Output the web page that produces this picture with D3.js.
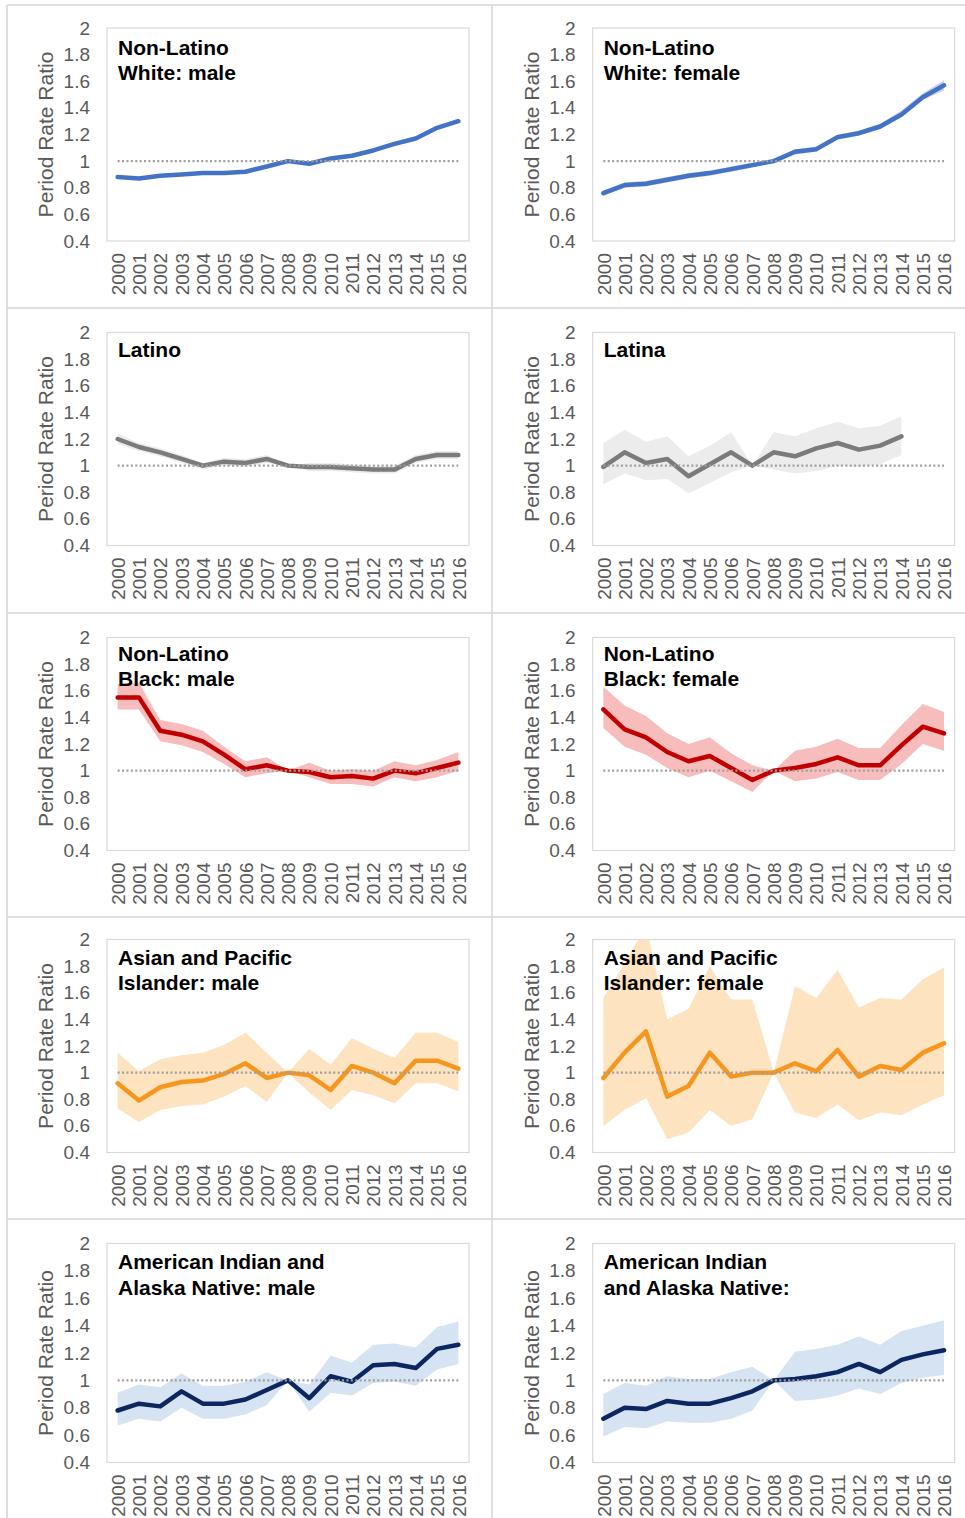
<!DOCTYPE html>
<html><head><meta charset="utf-8">
<script src="https://cdn.jsdelivr.net/npm/d3@7"></script>
<style>body{margin:0;background:#fff;} svg{display:block;font-family:"Liberation Sans",Arial,sans-serif;}</style>
</head><body><svg id="c" width="965" height="1518"></svg>
<script>
const years = ["2000","2001","2002","2003","2004","2005","2006","2007","2008","2009","2010","2011","2012","2013","2014","2015","2016"];
const yTicks = [0.4,0.6,0.8,1,1.2,1.4,1.6,1.8,2];
const refValue = 1;

const titles = [
  ["Non-Latino","White: male"], ["Non-Latino","White: female"],
  ["Latino"], ["Latina"],
  ["Non-Latino","Black: male"], ["Non-Latino","Black: female"],
  ["Asian and Pacific","Islander: male"], ["Asian and Pacific","Islander: female"],
  ["American Indian and","Alaska Native: male"], ["American Indian","and Alaska Native:"]
];

const nlwMale   = [0.88,0.87,0.89,0.90,0.91,0.91,0.92,0.96,1.00,0.98,1.02,1.04,1.08,1.13,1.17,1.25,1.30];
const nlwMaleLo = [0.87,0.86,0.88,0.89,0.90,0.90,0.91,0.95,1.00,0.97,1.01,1.03,1.07,1.12,1.16,1.24,1.29];
const nlwMaleHi = [0.89,0.88,0.90,0.91,0.92,0.92,0.93,0.97,1.00,0.99,1.03,1.05,1.09,1.14,1.18,1.26,1.32];

const nlwFemale   = [0.76,0.82,0.83,0.86,0.89,0.91,0.94,0.97,1.00,1.07,1.09,1.18,1.21,1.26,1.35,1.48,1.57];
const nlwFemaleLo = [0.74,0.80,0.81,0.84,0.87,0.89,0.92,0.95,1.00,1.05,1.07,1.16,1.19,1.24,1.33,1.46,1.53];
const nlwFemaleHi = [0.78,0.84,0.85,0.88,0.91,0.93,0.96,0.99,1.00,1.09,1.11,1.20,1.23,1.28,1.38,1.51,1.61];

const latino   = [1.20,1.14,1.10,1.05,1.00,1.03,1.02,1.05,1.00,0.99,0.99,0.98,0.97,0.97,1.05,1.08,1.08];
const latinoLo = [1.16,1.11,1.07,1.02,0.97,1.00,0.99,1.02,1.00,0.96,0.96,0.95,0.94,0.94,1.02,1.05,1.05];
const latinoHi = [1.24,1.17,1.13,1.08,1.02,1.06,1.05,1.08,1.00,1.02,1.02,1.01,1.00,1.00,1.08,1.11,1.11];

const latina   = [0.99,1.10,1.02,1.05,0.92,1.01,1.10,1.00,1.10,1.07,1.13,1.17,1.12,1.15,1.22];
const latinaLo = [0.86,0.94,0.89,0.90,0.79,0.87,0.95,1.00,0.97,0.94,0.96,1.00,0.99,1.01,1.08];
const latinaHi = [1.17,1.27,1.18,1.22,1.07,1.15,1.25,1.00,1.25,1.22,1.28,1.33,1.28,1.30,1.37];

const nlbMale   = [1.55,1.55,1.30,1.27,1.22,1.12,1.01,1.04,1.00,0.99,0.95,0.96,0.94,1.00,0.98,1.02,1.06];
const nlbMaleLo = [1.46,1.46,1.22,1.19,1.14,1.05,0.95,0.98,1.00,0.95,0.90,0.90,0.88,0.95,0.92,0.95,1.00];
const nlbMaleHi = [1.65,1.66,1.38,1.35,1.30,1.18,1.07,1.10,1.00,1.06,1.00,1.01,1.00,1.07,1.04,1.08,1.14];

const nlbFemale   = [1.46,1.31,1.25,1.14,1.07,1.11,1.02,0.93,1.00,1.02,1.05,1.10,1.04,1.04,1.19,1.33,1.28];
const nlbFemaleLo = [1.32,1.18,1.12,1.02,0.95,1.00,0.92,0.84,1.00,0.92,0.94,0.99,0.93,0.93,1.05,1.20,1.15];
const nlbFemaleHi = [1.63,1.49,1.41,1.28,1.20,1.25,1.13,1.04,1.00,1.15,1.18,1.24,1.17,1.17,1.34,1.50,1.44];

const apiMale   = [0.92,0.79,0.89,0.93,0.94,0.99,1.07,0.96,1.00,0.98,0.87,1.05,1.00,0.92,1.09,1.09,1.03];
const apiMaleLo = [0.73,0.63,0.72,0.75,0.76,0.82,0.90,0.78,1.00,0.85,0.72,0.87,0.83,0.77,0.92,0.92,0.86];
const apiMaleHi = [1.15,1.01,1.10,1.13,1.15,1.21,1.30,1.15,1.00,1.18,1.06,1.26,1.18,1.11,1.30,1.30,1.23];

const apiFemale   = [0.96,1.15,1.31,0.82,0.90,1.15,0.97,1.00,1.00,1.07,1.01,1.17,0.97,1.05,1.02,1.15,1.22];
const apiFemaleLo = [0.60,0.72,0.81,0.50,0.55,0.72,0.60,0.65,1.00,0.70,0.66,0.76,0.64,0.70,0.68,0.76,0.83];
const apiFemaleHi = [1.56,1.82,2.10,1.40,1.48,1.80,1.55,1.55,1.00,1.65,1.56,1.77,1.49,1.56,1.55,1.70,1.79];

const aianMale   = [0.78,0.83,0.81,0.92,0.83,0.83,0.86,0.93,1.00,0.87,1.03,0.99,1.11,1.12,1.09,1.23,1.26];
const aianMaleLo = [0.67,0.72,0.70,0.80,0.72,0.72,0.75,0.82,1.00,0.77,0.91,0.89,0.98,0.99,0.96,1.08,1.12];
const aianMaleHi = [0.91,0.97,0.95,1.05,0.96,0.96,0.99,1.06,1.00,0.97,1.18,1.13,1.26,1.27,1.24,1.39,1.43];

const aianFemale   = [0.72,0.80,0.79,0.85,0.83,0.83,0.87,0.92,1.00,1.01,1.03,1.06,1.12,1.06,1.15,1.19,1.22];
const aianFemaleLo = [0.59,0.66,0.65,0.70,0.69,0.69,0.72,0.78,1.00,0.85,0.86,0.89,0.94,0.90,0.98,1.02,1.04];
const aianFemaleHi = [0.90,0.98,0.96,1.03,1.01,1.01,1.06,1.10,1.00,1.21,1.23,1.26,1.32,1.26,1.36,1.40,1.44];

const palettes = {
  blue:   {line:"#4472c4", band:"#c9d6ef"},
  gray:   {line:"#7b7b7b", band:"#ececec"},
  red:    {line:"#c00000", band:"#f7bcbc"},
  orange: {line:"#f7961e", band:"#fde3bf"},
  navy:   {line:"#0d2660", band:"#d6e3f3"}
};

const panels = [
  {title:titles[0], v:nlwMale,   lo:nlwMaleLo,   hi:nlwMaleHi,   c:"blue"},
  {title:titles[1], v:nlwFemale, lo:nlwFemaleLo, hi:nlwFemaleHi, c:"blue"},
  {title:titles[2], v:latino,    lo:latinoLo,    hi:latinoHi,    c:"gray"},
  {title:titles[3], v:latina,    lo:latinaLo,    hi:latinaHi,    c:"gray"},
  {title:titles[4], v:nlbMale,   lo:nlbMaleLo,   hi:nlbMaleHi,   c:"red"},
  {title:titles[5], v:nlbFemale, lo:nlbFemaleLo, hi:nlbFemaleHi, c:"red"},
  {title:titles[6], v:apiMale,   lo:apiMaleLo,   hi:apiMaleHi,   c:"orange"},
  {title:titles[7], v:apiFemale, lo:apiFemaleLo, hi:apiFemaleHi, c:"orange"},
  {title:titles[8], v:aianMale,  lo:aianMaleLo,  hi:aianMaleHi,  c:"navy"},
  {title:titles[9], v:aianFemale,lo:aianFemaleLo,hi:aianFemaleHi,c:"navy"}
];

// layout
const colLeft = [107, 592.7];
const plotW = 362;
const rowTop = [28, 332.5, 637.5, 939.5, 1243.5];
const rowH = [213, 213, 213, 213, 219];
const titleOff = [26.5, 24, 23, 25, 25.5];
const gridH = [5, 308, 613, 917, 1219];
const gridV = [7, 492];

const svg = d3.select("#c");
svg.append("rect").attr("width",965).attr("height",1518).attr("fill","#fff");

// table grid
svg.selectAll("line.gh").data(gridH).join("line")
  .attr("x1",7).attr("x2",965).attr("y1",d=>d).attr("y2",d=>d)
  .attr("stroke","#d4d4d4").attr("stroke-width",1.5);
svg.selectAll("line.gv").data(gridV).join("line")
  .attr("x1",d=>d).attr("x2",d=>d).attr("y1",5).attr("y2",1518)
  .attr("stroke","#d4d4d4").attr("stroke-width",1.5);

const defs = svg.append("defs");

panels.forEach((p, i) => {
  const row = Math.floor(i/2), col = i%2;
  const left = colLeft[col], top = rowTop[row], h = rowH[row];
  const pal = palettes[p.c];
  const x = d3.scalePoint().domain(years).range([left, left+plotW]).padding(0.5);
  const y = d3.scaleLinear().domain([0.4, 2]).range([top+h, top]);
  const g = svg.append("g");

  g.append("rect").attr("x",left).attr("y",top).attr("width",plotW).attr("height",h)
    .attr("fill","#fff").attr("stroke","#d9d9d9").attr("stroke-width",1.2);

  const cid = "clip"+i;
  defs.append("clipPath").attr("id",cid).append("rect")
    .attr("x",left).attr("y",top).attr("width",plotW).attr("height",h);

  const pts = p.v.map((v,k)=>({yr:years[k], v, lo:p.lo[k], hi:p.hi[k]}));

  g.append("path").datum(pts)
    .attr("clip-path",`url(#${cid})`)
    .attr("fill",pal.band)
    .attr("d", d3.area().x(d=>x(d.yr)).y0(d=>y(d.lo)).y1(d=>y(d.hi)));

  g.append("path").datum(pts)
    .attr("fill","none").attr("stroke",pal.line).attr("stroke-width",4.5)
    .attr("stroke-linejoin","round").attr("stroke-linecap","round")
    .attr("d", d3.line().x(d=>x(d.yr)).y(d=>y(d.v)));

  g.append("line")
    .attr("x1",x(years[0])).attr("x2",x(years[years.length-1]))
    .attr("y1",y(refValue)).attr("y2",y(refValue))
    .attr("stroke","#9f9f9f").attr("stroke-width",2.2).attr("stroke-dasharray","2,2.4");

  // y axis
  const ya = g.append("g").attr("transform",`translate(${left},0)`)
    .call(d3.axisLeft(y).tickValues(yTicks).tickSize(0).tickPadding(17).tickFormat(d3.format("")));
  ya.select(".domain").remove();
  ya.selectAll("text").attr("fill","#595959").style("font-size","19px")
    .style("font-family","'Liberation Sans',Arial,sans-serif");

  // x axis
  const xa = g.append("g").attr("transform",`translate(0,${top+h})`)
    .call(d3.axisBottom(x).tickSize(0));
  xa.select(".domain").remove();
  xa.selectAll("text").attr("fill","#595959").style("font-size","19px")
    .style("font-family","'Liberation Sans',Arial,sans-serif")
    .attr("transform","rotate(-90)").attr("text-anchor","end")
    .attr("x",-12).attr("y",0).attr("dy","0.35em");

  // y title
  g.append("text").attr("transform",`translate(${left-54},${top+h/2}) rotate(-90)`)
    .attr("text-anchor","middle").attr("fill","#595959").style("font-size","21px")
    .text("Period Rate Ratio");

  // panel title
  const t = g.append("text").attr("fill","#000").style("font-size","21px").style("font-weight","bold");
  p.title.forEach((line, k) => {
    t.append("tspan").attr("x", left + 11).attr("y", top + titleOff[row] + k*25.5).text(line);
  });
});
</script>
</body></html>
